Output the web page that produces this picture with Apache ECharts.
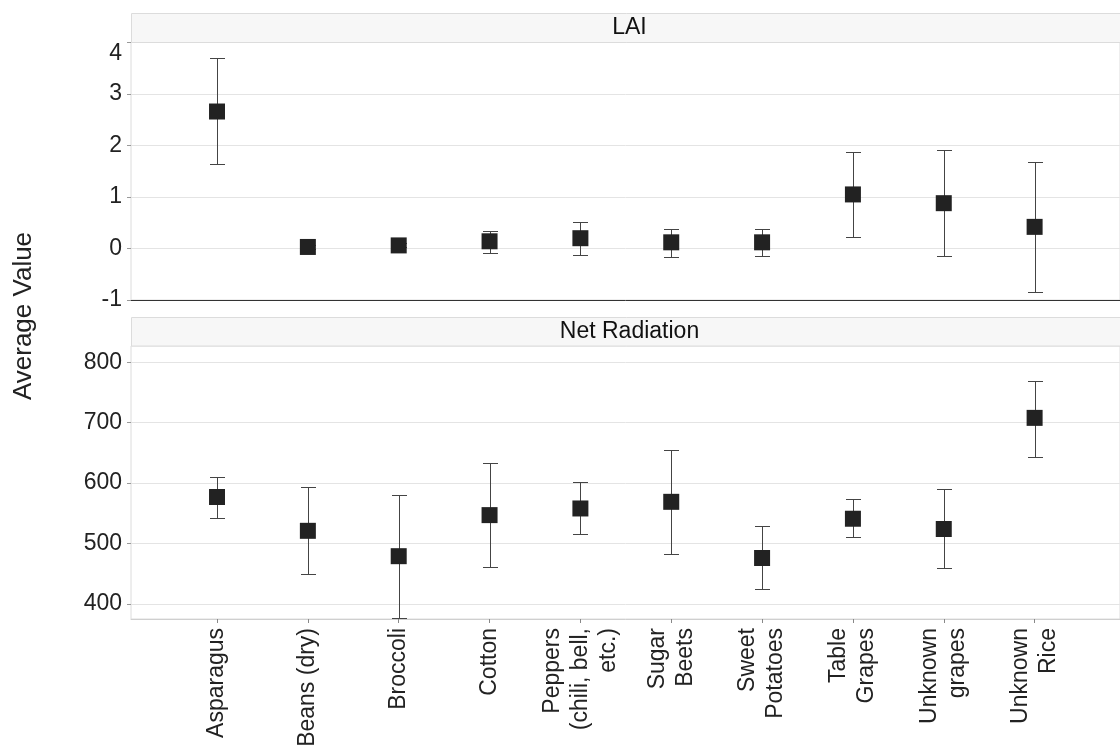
<!DOCTYPE html>
<html><head><meta charset="utf-8">
<script src="https://cdn.jsdelivr.net/npm/echarts@6/dist/echarts.min.js"></script>
<style>html,body{margin:0;padding:0;background:#fff}#c{width:1120px;height:753px}</style>
</head><body><div id="c"></div>
<script>
const categories = ['Asparagus','Beans (dry)','Broccoli','Cotton','Peppers\n(chili, bell,\netc.)','Sugar\nBeets','Sweet\nPotatoes','Table\nGrapes','Unknown\ngrapes','Unknown\nRice'];
const laiMean = [2.66, 0.03, 0.06, 0.14, 0.20, 0.12, 0.12, 1.05, 0.88, 0.42];
const laiLow  = [1.64, 0.00, 0.03, -0.08, -0.12, -0.16, -0.15, 0.23, -0.15, -0.85];
const laiHigh = [3.70, 0.06, 0.10, 0.34, 0.52, 0.38, 0.38, 1.88, 1.92, 1.68];
const netMean = [577, 521, 479, 547, 558, 569, 476, 541, 524, 708];
const netLow  = [543, 449, 376, 461, 515, 483, 424, 510, 459, 644];
const netHigh = [610, 593, 581, 634, 602, 655, 529, 574, 591, 769];
const laiTicks = [-1, 0, 1, 2, 3, 4];
const netTicks = [400, 500, 600, 700, 800];
const panelTitles = ['LAI', 'Net Radiation'];
const yTitle = 'Average Value';

const FONT = "'Liberation Sans', Arial, sans-serif";
const idx = categories.map((c, i) => i);

function errRender(params, api) {
  const x = api.value(0), lo = api.value(1), hi = api.value(2);
  const pLo = api.coord([x, lo]), pHi = api.coord([x, hi]);
  const w = 7.5;
  const cx = Math.round(pLo[0]) + 0.5;
  const yl = Math.round(pLo[1]) + 0.5, yh = Math.round(pHi[1]) + 0.5;
  const style = { stroke: '#444', lineWidth: 1 };
  return { type: 'group', children: [
    { type: 'line', shape: { x1: cx, y1: yl, x2: cx, y2: yh }, style },
    { type: 'line', shape: { x1: cx - w, y1: yh, x2: cx + w, y2: yh }, style },
    { type: 'line', shape: { x1: cx - w, y1: yl, x2: cx + w, y2: yl }, style }
  ]};
}

const gridLeft = 131, gridWidth = 997;
const xMin = -0.947, xMax = 9.94;

function xAxisCfg(gi, showLabels) {
  return {
    type: 'value', gridIndex: gi, min: xMin, max: xMax,
    splitLine: { show: false },
    axisLine: { show: true, onZero: false, lineStyle: { color: showLabels ? '#cfcfcf' : '#333', width: 1 } },
    axisTick: { show: showLabels, length: 4, lineStyle: { color: '#888' }, customValues: idx },
    axisLabel: showLabels ? {
      show: true, rotate: 90, margin: 9, fontSize: 23, lineHeight: 28, color: '#222', fontFamily: FONT,
      customValues: idx, formatter: v => categories[Math.round(v)]
    } : { show: false }
  };
}

function yAxisCfg(gi, min, max, ticks, extra) {
  return Object.assign({
    type: 'value', gridIndex: gi, min: min, max: max, position: 'left',
    axisLine: { show: false, onZero: false },
    axisTick: { show: true, length: 4, lineStyle: { color: '#999' }, customValues: ticks },
    axisLabel: { fontSize: 23, color: '#222', margin: 9, fontFamily: FONT, customValues: ticks, verticalAlignMaxLabel: gi === 0 ? 'top' : null },
    splitLine: { show: true, lineStyle: { color: '#e4e4e4', width: 1 } }
  }, extra || {});
}

const option = {
  animation: false,
  backgroundColor: '#fff',
  textStyle: { fontFamily: FONT },
  grid: [
    { left: gridLeft, top: 42.5, width: gridWidth, height: 257.5, show: true, borderColor: '#dcdcdc', borderWidth: 1, containLabel: false },
    { left: gridLeft, top: 346, width: gridWidth, height: 273, show: true, borderColor: '#dcdcdc', borderWidth: 1, containLabel: false }
  ],
  xAxis: [xAxisCfg(0, false), xAxisCfg(1, true)],
  yAxis: [
    yAxisCfg(0, -1, 4, laiTicks, { interval: 1 }),
    yAxisCfg(1, 375, 827, netTicks)
  ],
  graphic: [
    { type: 'rect', shape: { x: gridLeft + 0.5, y: 13.5, width: gridWidth, height: 29 }, style: { fill: '#f7f7f7', stroke: '#dcdcdc', lineWidth: 1 }, z: 10 },
    { type: 'text', x: gridLeft + gridWidth / 2, y: 28, style: { text: panelTitles[0], fontSize: 23, fill: '#111', align: 'center', verticalAlign: 'middle', fontFamily: FONT }, z: 11 },
    { type: 'rect', shape: { x: gridLeft + 0.5, y: 317.5, width: gridWidth, height: 28.5 }, style: { fill: '#f7f7f7', stroke: '#dcdcdc', lineWidth: 1 }, z: 10 },
    { type: 'text', x: gridLeft + gridWidth / 2, y: 332, style: { text: panelTitles[1], fontSize: 23, fill: '#111', align: 'center', verticalAlign: 'middle', fontFamily: FONT }, z: 11 },
    { type: 'text', x: 24, y: 316, rotation: Math.PI / 2, style: { text: yTitle, fontSize: 26, fill: '#222', align: 'center', verticalAlign: 'middle', fontFamily: FONT }, z: 11 }
  ],
  series: [
    { type: 'custom', xAxisIndex: 0, yAxisIndex: 0, renderItem: errRender, clip: true, z: 2,
      data: idx.map(i => [i, laiLow[i], laiHigh[i]]) },
    { type: 'scatter', xAxisIndex: 0, yAxisIndex: 0, symbol: 'rect', symbolSize: 16, z: 3,
      itemStyle: { color: '#222', opacity: 1 }, data: idx.map(i => [i, laiMean[i]]) },
    { type: 'custom', xAxisIndex: 1, yAxisIndex: 1, renderItem: errRender, clip: true, z: 2,
      data: idx.map(i => [i, netLow[i], netHigh[i]]) },
    { type: 'scatter', xAxisIndex: 1, yAxisIndex: 1, symbol: 'rect', symbolSize: 16, z: 3,
      itemStyle: { color: '#222', opacity: 1 }, data: idx.map(i => [i, netMean[i]]) }
  ]
};

const chart = echarts.init(document.getElementById('c'), null, { renderer: 'canvas' });
chart.setOption(option);
</script>
</body></html>
